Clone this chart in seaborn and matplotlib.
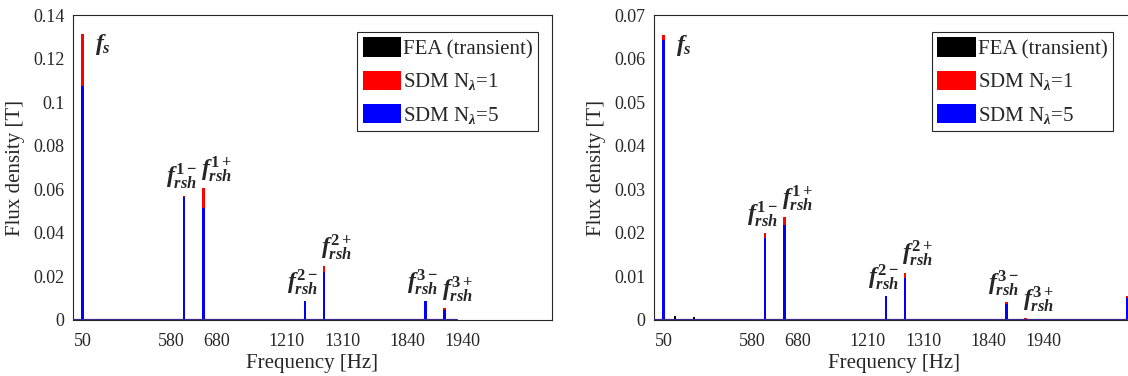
import numpy as np
import pandas as pd
import matplotlib
matplotlib.use("Agg")
import matplotlib.pyplot as plt
import seaborn as sns
from matplotlib.patches import Patch
from matplotlib.ticker import FormatStrFormatter

# ---------------- data ----------------
series_names = ["FEA (transient)", "SDM N$_\\lambda$=1", "SDM N$_\\lambda$=5"]
series_colors = ["#000000", "#ff0000", "#0000ff"]

# left panel
left_freqs = [50, 580, 680, 1210, 1310, 1840, 1940]
left_fea = [0.1080, 0.0571, 0.0520, 0.0088, 0.0222, 0.0088, 0.0048]
left_sdm1 = [0.1311, 0.0569, 0.0606, 0.0086, 0.0248, 0.0088, 0.0054]
left_sdm5 = [0.1076, 0.0566, 0.0515, 0.0087, 0.0222, 0.0086, 0.0046]
left_span = [0, 2005]

# right panel
right_freqs = [50, 580, 680, 1210, 1310, 1840, 1940, 2470]
right_fea = [0.0623, 0.0190, 0.0225, 0.0050, 0.0097, 0.0036, 0.0003, 0.0055]
right_sdm1 = [0.0653, 0.0199, 0.0237, 0.0048, 0.0109, 0.0041, 0.0004, 0.0056]
right_sdm5 = [0.0643, 0.0189, 0.0218, 0.0054, 0.0097, 0.0036, 0.0002, 0.0051]
right_noise_f = [110, 210, 370, 520, 840, 1130, 1460, 1970, 2390]
right_noise_v = [0.0009, 0.0007, 0.0002, 0.0002, 0.0002, 0.0002, 0.0002, 0.0002, 0.0002]
right_span = [0, 2500]

tick_freqs = [50, 580, 680, 1210, 1310, 1840, 1940]
tick_labels = ["50", "580", "680", "1210", "1310", "1840", "1940"]
tick_ha = ["center", "right", "left", "right", "left", "right", "left"]

rsh_sups = ["1-", "1+", "2-", "2+", "3-", "3+"]
rsh_ha = ["center", "left", "center", "left", "center", "left"]

# ---------------- style ----------------
sns.set_theme(style="white")
plt.rcParams["font.family"] = ["Liberation Serif", "DejaVu Serif"]
plt.rcParams["mathtext.fontset"] = "custom"
plt.rcParams["mathtext.rm"] = "Liberation Serif"
plt.rcParams["mathtext.it"] = "Liberation Serif:italic:bold"
plt.rcParams["mathtext.bf"] = "Liberation Serif:bold"

TXT = "#262626"


def make_df(freqs, fea, sdm1, sdm5, noise_f=(), noise_v=()):
    rows = []
    for vals, name in zip([fea, sdm1, sdm5], series_names):
        for f, v in zip(freqs, vals):
            rows.append({"freq": f, "value": v, "series": name})
    for f, v in zip(noise_f, noise_v):
        rows.append({"freq": f, "value": v, "series": series_names[0]})
    return pd.DataFrame(rows)


def draw_panel(ax, df, freqs, tops, span, ymax, ystep, legend_x):
    uniq = np.unique(df["freq"])
    bar_w = 13.0  # Hz, bars of the three series overlap (blue on top)
    sns.barplot(data=df, x="freq", y="value", hue="series", hue_order=series_names,
                palette=series_colors, native_scale=True, dodge=False,
                width=bar_w / np.min(np.diff(uniq)), saturation=1,
                errorbar=None, linewidth=0, legend=False, ax=ax)
    # zero line of the spectrum
    ax.plot(span, [0, 0], color="#3b2a8c", lw=1.6, zorder=3)

    ax.set_xlim(0, 2500)
    ax.set_ylim(0, ymax)
    ax.set_yticks(np.arange(0, ymax + ystep / 2, ystep))
    ax.yaxis.set_major_formatter(FormatStrFormatter("%g"))
    ax.set_xticks(tick_freqs)
    ax.set_xticklabels(tick_labels)
    for lab, ha in zip(ax.get_xticklabels(), tick_ha):
        lab.set_ha(ha)
    ax.tick_params(axis="both", length=0, labelsize=13, colors=TXT)
    ax.tick_params(axis="x", pad=9)
    ax.tick_params(axis="y", pad=6)
    ax.set_xlabel("Frequency [Hz]", fontsize=15, color=TXT, labelpad=3)
    ax.set_ylabel("Flux density [T]", fontsize=15, color=TXT, labelpad=6)
    for s in ax.spines.values():
        s.set_color(TXT)
        s.set_linewidth(0.8)
        s.set_visible(True)

    # harmonic labels
    ax.annotate(r"$f_{s}$", xy=(freqs[0], tops[0]),
                xytext=(9, 2), textcoords="offset points", ha="left", va="top",
                fontsize=17)
    for f, t, sup, ha in zip(freqs[1:7], tops[1:7], rsh_sups, rsh_ha):
        ax.annotate(r"$f_{rsh}^{\mathbf{" + sup + "}}$",
                    xy=(f, t), xytext=(-2, 3), textcoords="offset points",
                    ha=ha, va="bottom", fontsize=17)

    handles = [Patch(facecolor=c, edgecolor="none") for c in series_colors]
    leg = ax.legend(handles, series_names, loc="upper right",
                    bbox_to_anchor=(legend_x, 0.944), borderaxespad=0,
                    fontsize=15, handlelength=1.85, handleheight=1.05,
                    handletextpad=0.1, labelspacing=0.55, borderpad=0.25,
                    fancybox=False, framealpha=1, edgecolor=TXT)
    leg.get_frame().set_linewidth(0.8)


fig = plt.figure(figsize=(11.28, 3.76), dpi=100)
ax1 = fig.add_axes([73 / 1128, 56 / 376, 479 / 1128, 305 / 376])
ax2 = fig.add_axes([654 / 1128, 56 / 376, 479 / 1128, 305 / 376])

df_left = make_df(left_freqs, left_fea, left_sdm1, left_sdm5)
tops_left = [max(a, b, c) for a, b, c in zip(left_fea, left_sdm1, left_sdm5)]
draw_panel(ax1, df_left, left_freqs, tops_left, left_span, 0.14, 0.02, 0.971)

df_right = make_df(right_freqs, right_fea, right_sdm1, right_sdm5, right_noise_f, right_noise_v)
tops_right = [max(a, b, c) for a, b, c in zip(right_fea, right_sdm1, right_sdm5)]
draw_panel(ax2, df_right, right_freqs, tops_right, right_span, 0.07, 0.01, 0.958)

fig.savefig("out.png", dpi=100)
